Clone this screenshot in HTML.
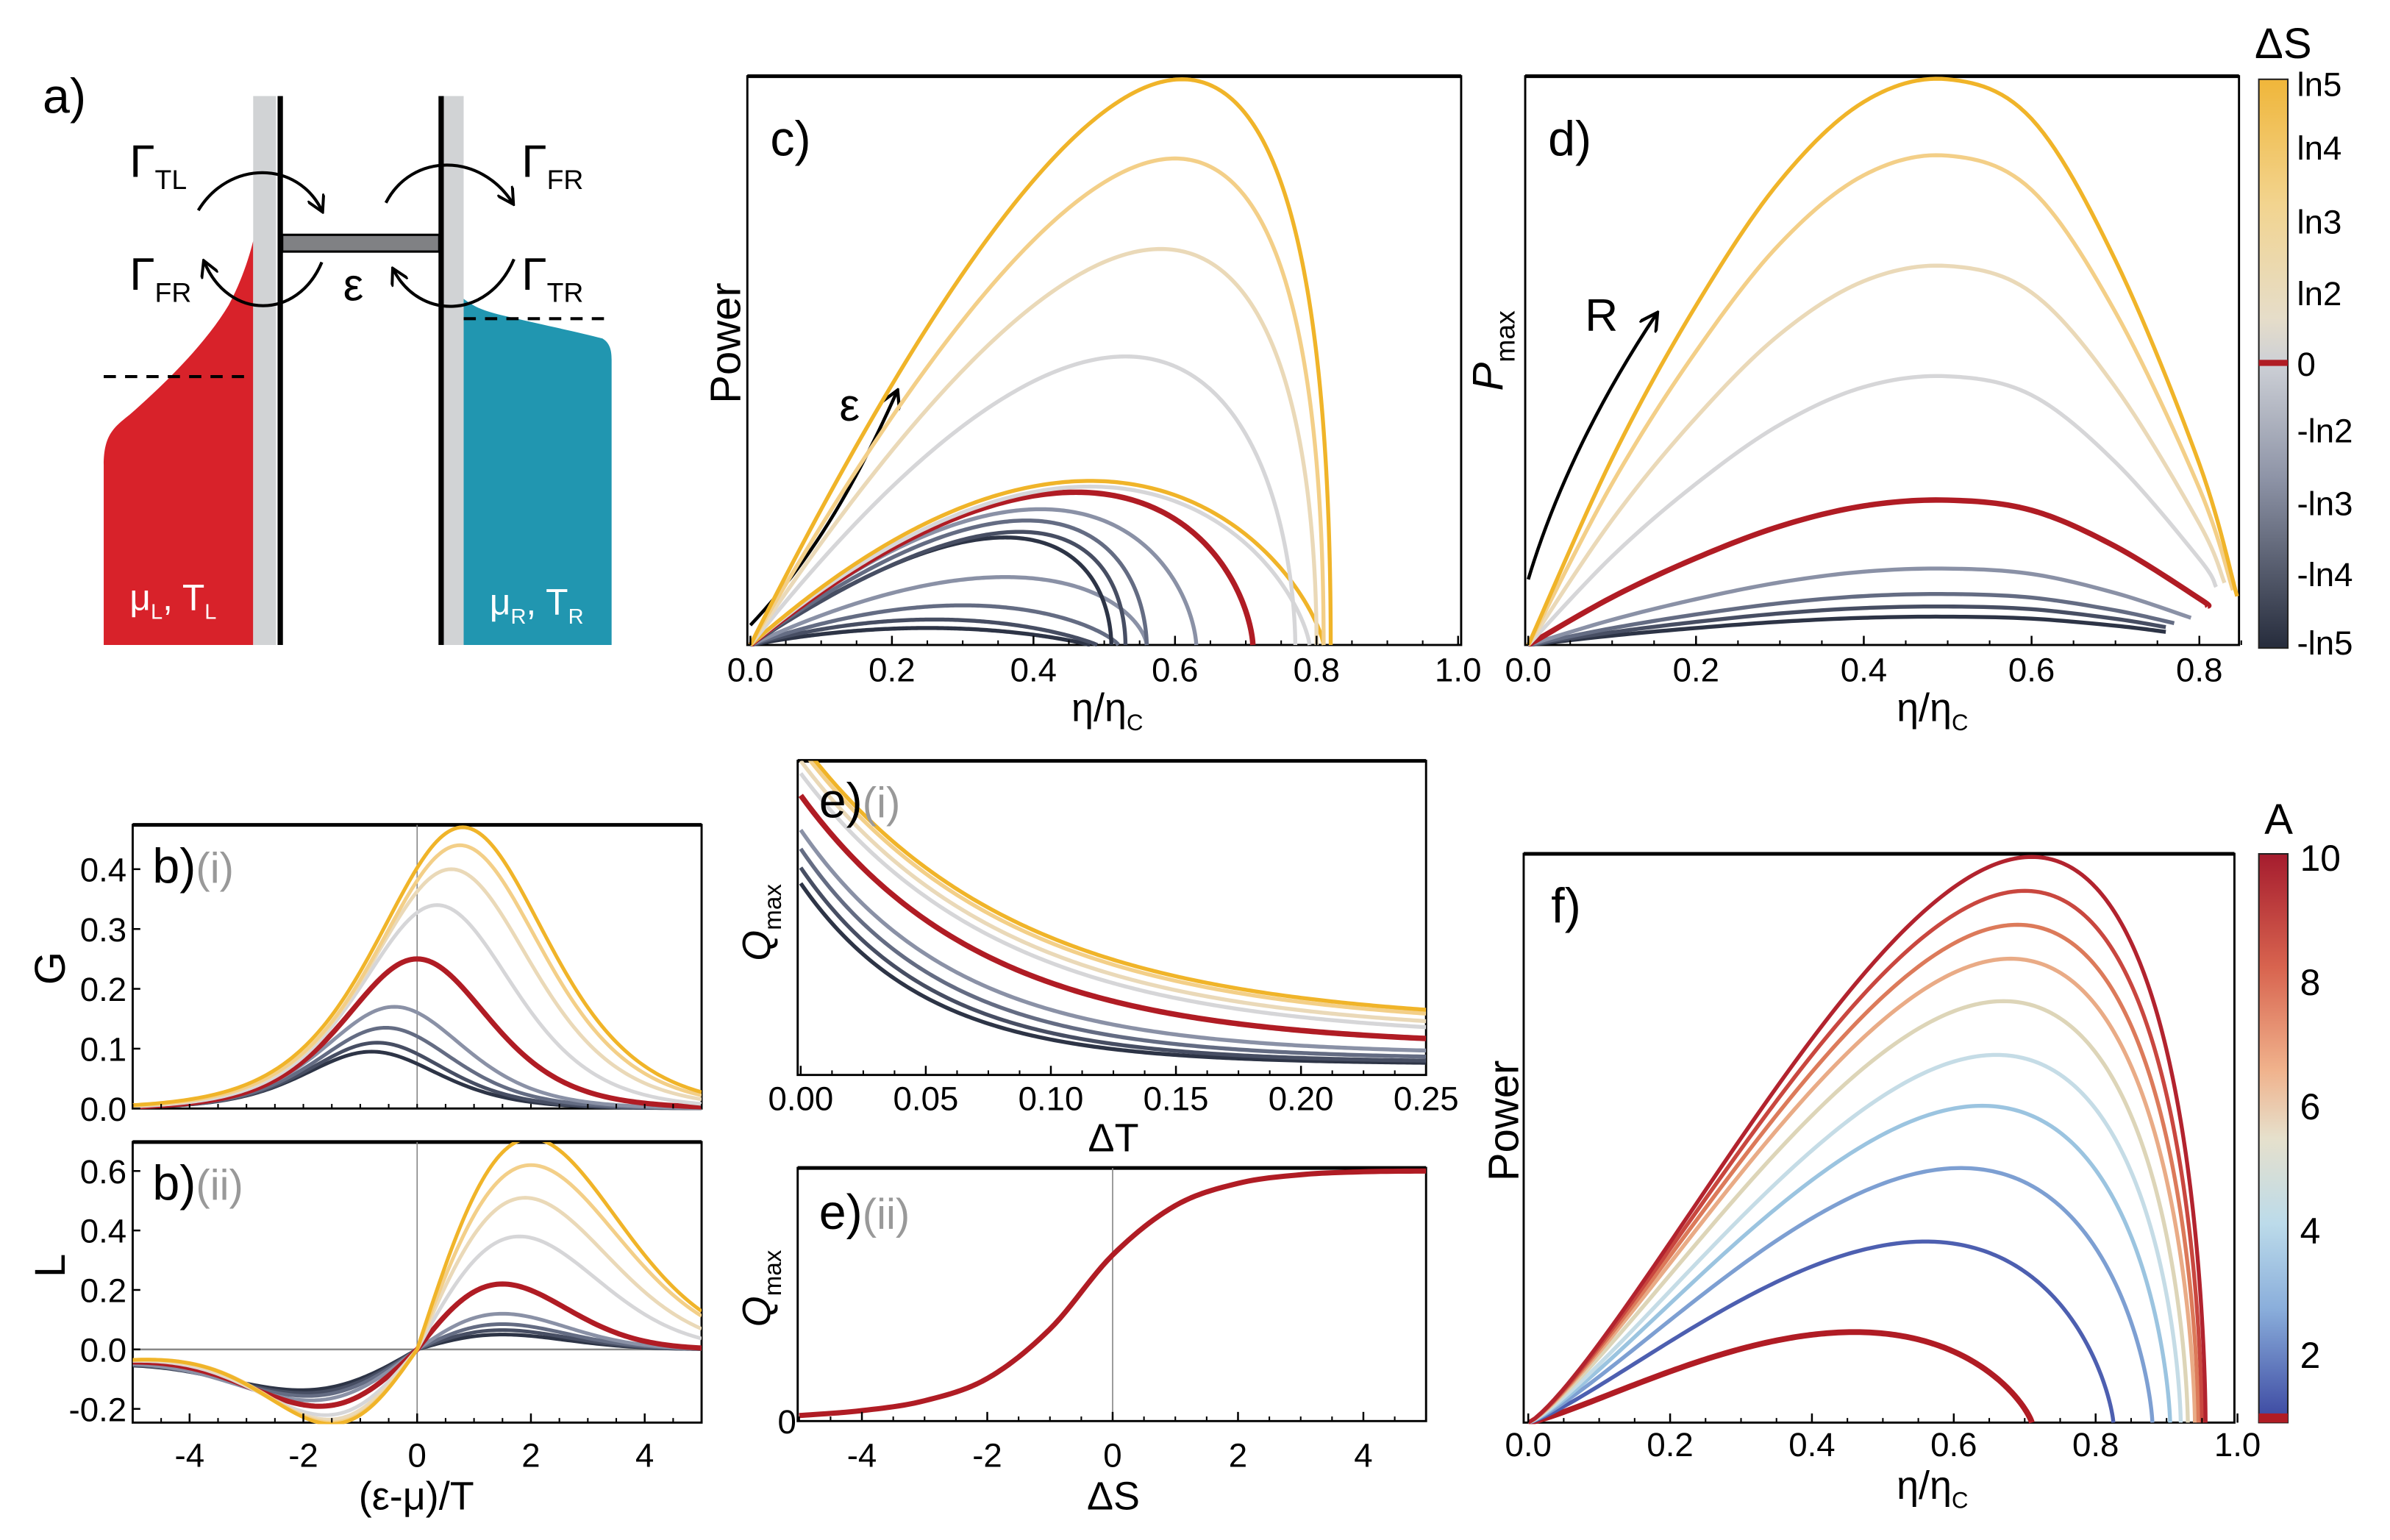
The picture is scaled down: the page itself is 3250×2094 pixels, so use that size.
<!DOCTYPE html>
<html><head><meta charset="utf-8">
<style>
html,body{margin:0;padding:0;background:#fff;}
svg{display:block;}
text{font-family:"Liberation Sans","DejaVu Sans",sans-serif;}
</style></head>
<body>
<svg id="fig" width="3250" height="2094" viewBox="0 0 1567 1010" preserveAspectRatio="none" xmlns="http://www.w3.org/2000/svg">
<defs>
<linearGradient id="gS" x1="0" y1="0" x2="0" y2="1">
<stop offset="0" stop-color="#f0b63a"/><stop offset="0.22" stop-color="#f2d48f"/><stop offset="0.42" stop-color="#e6ddc9"/><stop offset="0.5" stop-color="#cdd0d6"/><stop offset="0.7" stop-color="#8e94a7"/><stop offset="1" stop-color="#262c3c"/>
</linearGradient>
<linearGradient id="gA" x1="0" y1="0" x2="0" y2="1">
<stop offset="0" stop-color="#a51c2e"/><stop offset="0.2" stop-color="#d8644f"/><stop offset="0.38" stop-color="#f0b28c"/><stop offset="0.5" stop-color="#e6e0cc"/><stop offset="0.65" stop-color="#bcdbea"/><stop offset="0.8" stop-color="#8aaedb"/><stop offset="1" stop-color="#3a46a0"/>
</linearGradient>
<marker id="ah" viewBox="0 0 10 10" refX="8" refY="5" markerWidth="6" markerHeight="6" orient="auto"><path d="M0,0 L9,5 L0,10" fill="none" stroke="#000" stroke-width="1.6"/></marker>
<clipPath id="clipC"><rect x="490" y="50" width="468" height="374"/></clipPath>
<clipPath id="clipD"><rect x="1000" y="50" width="468" height="374"/></clipPath>
<clipPath id="clipB1"><rect x="87" y="541" width="373" height="187"/></clipPath>
<clipPath id="clipB2"><rect x="87" y="749" width="373" height="185"/></clipPath>
<clipPath id="clipE1"><rect x="523" y="499" width="412" height="207"/></clipPath>
<clipPath id="clipE2"><rect x="523" y="766" width="412" height="167"/></clipPath>
<clipPath id="clipF"><rect x="999" y="560" width="466" height="374"/></clipPath>
</defs>

<!-- Panel a -->
<g>
<text x="28" y="74" font-size="32">a)</text>
<path d="M68,423 L68,305 C68,285 75,280 85,272 C110,250 135,225 150,200 C158,185 163,170 166,158 L166,423 Z" fill="#d8222a"/>
<path d="M304,196 C312,202 318,204 330,207 C360,214 380,218 395,222 C400,225 401,230 401,236 L401,423 L304,423 Z" fill="#2196b0"/>
<rect x="166" y="63" width="15" height="360" fill="#d1d3d5"/>
<rect x="182" y="63" width="3.5" height="360" fill="#000"/>
<rect x="287.5" y="63" width="3.5" height="360" fill="#000"/>
<rect x="291" y="63" width="13" height="360" fill="#d1d3d5"/>
<rect x="185" y="154" width="103" height="11" fill="#808184" stroke="#000" stroke-width="1.5"/>
<line x1="68" y1="247" x2="165" y2="247" stroke="#000" stroke-width="2" stroke-dasharray="8,6"/>
<line x1="304" y1="209" x2="401" y2="209" stroke="#000" stroke-width="2" stroke-dasharray="8,6"/>
<path d="M130,138 C150,105 195,105 211,138" fill="none" stroke="#000" stroke-width="2" marker-end="url(#ah)"/>
<path d="M253,133 C270,100 315,100 336,133" fill="none" stroke="#000" stroke-width="2" marker-end="url(#ah)"/>
<path d="M211,172 C195,210 150,210 134,172" fill="none" stroke="#000" stroke-width="2" marker-end="url(#ah)"/>
<path d="M337,170 C320,210 275,210 258,177" fill="none" stroke="#000" stroke-width="2" marker-end="url(#ah)"/>
<text x="85" y="116" font-size="30">Γ<tspan font-size="18" dy="8">TL</tspan></text>
<text x="342" y="116" font-size="30">Γ<tspan font-size="18" dy="8">FR</tspan></text>
<text x="85" y="190" font-size="30">Γ<tspan font-size="18" dy="8">FR</tspan></text>
<text x="342" y="190" font-size="30">Γ<tspan font-size="18" dy="8">TR</tspan></text>
<text x="225" y="197" font-size="30">ε</text>
<text x="85" y="400" font-size="24" fill="#fff">μ<tspan font-size="14" dy="6">L</tspan><tspan dy="-6">, T</tspan><tspan font-size="14" dy="6">L</tspan></text>
<text x="321" y="403" font-size="24" fill="#fff">μ<tspan font-size="14" dy="6">R</tspan><tspan dy="-6">, T</tspan><tspan font-size="14" dy="6">R</tspan></text>
</g>

<g id="plots"></g>
</svg>
<script>
// ---------- DATA ----------
const sColors = ['#f0b429','#f3cf88','#ead9b8','#d6d6d8','#b01c24','#8a91a6','#646c83','#474e63','#2d3446'];
// panel c
const cPeakEta = [0.61,0.60,0.58,0.53,0.48,0.48,0.46,0.41,0.39,0.38,0.36,0.36,0.30,0.26,0.25];
const cPeakP   = [1.00,0.86,0.70,0.51,0.29,0.28,0.27,0.24,0.22,0.20,0.19,0.12,0.07,0.045,0.03];
const cEndEta  = [0.82,0.81,0.80,0.77,0.81,0.79,0.71,0.63,0.56,0.53,0.51,0.56,0.52,0.49,0.48];
const cColor   = ['#f0b429','#f3cf88','#ead9b8','#d6d6d8','#f0b429','#d6d6d8','#b01c24','#8a91a6','#646c83','#474e63','#2d3446','#8a91a6','#646c83','#474e63','#2d3446'];
const cTicks = [0,0.2,0.4,0.6,0.8,1.0];
// panel d
const dPeak = [1.00,0.865,0.67,0.475,0.256,0.135,0.09,0.068,0.05];
const dEnd  = [0.845,0.84,0.83,0.82,0.81,0.79,0.77,0.76,0.76];
const dShapeEta = [0,0.1,0.2,0.3,0.4,0.5,0.6,0.7,0.8,0.85];
const dShape    = [0,0.33,0.6,0.82,0.96,1,0.93,0.68,0.32,0.06];
const dTicks = [0,0.2,0.4,0.6,0.8];
const sCbLabels = ['ln5','ln4','ln3','ln2','0','-ln2','-ln3','-ln4','-ln5'];
const sCbPos = [0.008,0.12,0.25,0.376,0.5,0.617,0.745,0.87,0.99];
// panel b(i)
const gPeakX = [0.8,0.75,0.6,0.35,0.0,-0.4,-0.55,-0.7,-0.8];
const gPeakH = [0.47,0.44,0.40,0.34,0.25,0.17,0.135,0.11,0.095];
const gWidth = [2.0,1.95,1.9,1.8,1.7,1.65,1.62,1.6,1.6];
const bXTicks = [-4,-2,0,2,4];
const gYTicks = [0,0.1,0.2,0.3,0.4];
// panel b(ii)
const lPosH = [0.71,0.62,0.51,0.38,0.22,0.12,0.085,0.065,0.05];
const lPosX = [2.0,2.0,1.9,1.8,1.5,1.5,1.5,1.5,1.5];
const lNegH = [0.25,0.245,0.235,0.22,0.19,0.17,0.155,0.145,0.135];
const lNegX = [1.5,1.5,1.55,1.6,1.7,1.85,1.9,1.95,2.0];
const lYTicks = [-0.2,0,0.2,0.4,0.6];
// panel e(i)
const eQ0   = [1.06,1.04,1.0,0.96,0.89,0.78,0.72,0.66,0.61];
const eQinf = [0.16,0.15,0.13,0.115,0.09,0.065,0.05,0.04,0.035];
const eTau  = [0.085,0.084,0.082,0.08,0.073,0.062,0.057,0.053,0.05];
const e1Ticks = [0,0.05,0.10,0.15,0.20,0.25];
const e1TickLabels = ['0.00','0.05','0.10','0.15','0.20','0.25'];
// panel e(ii)
const e2S = [-5,-4,-3,-2,-1,0,1,2,3,4,5];
const e2Q = [0.01,0.03,0.07,0.16,0.36,0.66,0.86,0.95,0.985,0.997,1.0];
// panel f
const fPeakEta = [0.71,0.70,0.69,0.68,0.67,0.66,0.64,0.61,0.56,0.46];
const fPeakP   = [1.0,0.94,0.88,0.82,0.745,0.65,0.56,0.45,0.32,0.16];
const fEndEta  = [0.955,0.95,0.945,0.94,0.93,0.92,0.905,0.88,0.825,0.71];
const fColor   = ['#b2232e','#c9473f','#dc7a5a','#e9ab86','#ddd5b8','#c5dce6','#9bc4e0','#7d9fd2','#4d5fb0','#b01c24'];
const fTicks = [0,0.2,0.4,0.6,0.8,1.0];
const aCbLabels = ['10','8','6','4','2'];
const aCbVals = [10,8,6,4,2];

// ---------- HELPERS ----------
const NS='http://www.w3.org/2000/svg';
const root=document.getElementById('plots');
function el(tag,attrs,parent){const e=document.createElementNS(NS,tag);for(const k in attrs)e.setAttribute(k,attrs[k]);(parent||root).appendChild(e);return e;}
function lin(d0,d1,r0,r1){return v=>r0+(v-d0)*(r1-r0)/(d1-d0);}
function pathD(pts){return pts.map((p,i)=>(i?'L':'M')+p[0].toFixed(2)+','+p[1].toFixed(2)).join('');}
function catmull(xs,ys,n){const out=[];for(let i=0;i<xs.length-1;i++){const i0=Math.max(0,i-1),i3=Math.min(xs.length-1,i+2);for(let k=0;k<n;k++){const t=k/n,t2=t*t,t3=t2*t;const f=(a,b,c,d)=>0.5*((2*b)+(-a+c)*t+(2*a-5*b+4*c-d)*t2+(-a+3*b-3*c+d)*t3);out.push([f(xs[i0],xs[i],xs[i+1],xs[i3]),f(ys[i0],ys[i],ys[i+1],ys[i3])]);}}out.push([xs[xs.length-1],ys[ys.length-1]]);return out;}
function box(x,y,w,h,name){const r=el('rect',{x:x,y:y,width:w,height:h,fill:'none',stroke:'#000','stroke-width':1.4});const t=el('line',{x1:x,y1:y,x2:x+w,y2:y,stroke:'#000','stroke-width':2.4});}
function txt(x,y,s,size,anchor,name,extra){const t=el('text',Object.assign({x:x,y:y,'font-size':size,'text-anchor':anchor||'middle'},extra||{}));t.textContent=s;return t;}
function xticks(sx,vals,labels,y0,name,minorStep,lo,hi,ly,size){
  for(let v=lo;v<=hi+1e-9;v+=minorStep){const X=sx(v);const l=el('line',{x1:X,y1:y0,x2:X,y2:y0-3,stroke:'#000','stroke-width':1});}
  vals.forEach((v,i)=>{const X=sx(v);const l=el('line',{x1:X,y1:y0,x2:X,y2:y0-6,stroke:'#000','stroke-width':1.2});txt(X,ly,labels[i],size||22,'middle',name+'-tick-label');});
}
function yticks(sy,vals,labels,x0,name,lx){vals.forEach((v,i)=>{const Y=sy(v);const l=el('line',{x1:x0,y1:Y,x2:x0+5,y2:Y,stroke:'#000','stroke-width':1.2});txt(lx,Y+8,labels[i],22,'end',name+'-tick-label');});}
function curve(pts,color,w,clip,name){const p=el('path',{d:pathD(pts),fill:'none',stroke:color,'stroke-width':w,'stroke-linejoin':'round','clip-path':'url(#'+clip+')'});return p;}
function loopPts(ep,em,pm,sx,sy,pw){const n=Math.max(1.02,Math.log(1-ep/em)/Math.log(0.5));const pts=[];for(let i=0;i<=200;i++){const x=i/200;const eta=em*(1-Math.pow(1-x,n));const P=pm*Math.pow(4*x*(1-x),pw);pts.push([sx(eta),sy(P)]);}return pts;}
const fmt1=v=>v.toFixed(1);

// ---------- PANEL C ----------
{const sx=lin(0,1,492,956),sy=lin(0,1,423,52);
box(490,50,468,373,'panel-c-frame');
const ar=el('path',{d:'M492,410 C530,370 560,320 588,257',fill:'none',stroke:'#000','stroke-width':2.2,'marker-end':'url(#ah)'});

txt(557,276,'ε',30,'middle','epsilon-arrow-label');
for(let i=cPeakEta.length-1;i>=0;i--){curve(loopPts(cPeakEta[i],cEndEta[i],cPeakP[i],sx,sy,1),cColor[i],cColor[i]==='#b01c24'?3.6:2.6,'clipC','power-curve-c-'+i);}
xticks(sx,cTicks,cTicks.map(fmt1),423,'c-x-axis',0.05,0,1,447);
txt(726,473,'η/η',26,'middle','c-x-axis-title').innerHTML='η/η<tspan font-size="15" dy="6">C</tspan>';
txt(478,225,'Power',28,'middle','c-y-axis-title',{transform:'rotate(-90 478 225)'}).setAttribute('dominant-baseline','middle');
txt(505,102,'c)',32,'start','panel-c-label');}

// ---------- PANEL D ----------
{const sx=lin(0,0.8,1002,1442),sy=lin(0,1,423,52);
box(1000,50,468,373,'panel-d-frame');
const ar=el('path',{d:'M1002,380 C1020,320 1050,260 1086,206',fill:'none',stroke:'#000','stroke-width':2.2,'marker-end':'url(#ah)'});

txt(1050,217,'R',30,'middle','r-arrow-label');
for(let i=dPeak.length-1;i>=0;i--){const xs=[],ys=[];for(let k=0;k<dShapeEta.length;k++){if(dShapeEta[k]<dEnd[i]){xs.push(dShapeEta[k]);ys.push(dShape[k]);}else{const a=dShapeEta[k-1],b=dShapeEta[k];const t=(dEnd[i]-a)/(b-a);xs.push(dEnd[i]);ys.push(dShape[k-1]+t*(dShape[k]-dShape[k-1]));break;}}
 const pts=catmull(xs.map(sx),ys.map(v=>sy(v*dPeak[i])),14);curve(pts,sColors[i],i===4?3.6:2.6,'clipD','pmax-curve-d-'+i);}
xticks(sx,dTicks,dTicks.map(fmt1),423,'d-x-axis',0.05,0,0.85,447);
txt(1267,473,'',26,'middle','d-x-axis-title').innerHTML='η/η<tspan font-size="15" dy="6">C</tspan>';
txt(985,230,'',28,'middle','d-y-axis-title',{transform:'rotate(-90 985 230)'}).innerHTML='<tspan font-style="italic">P</tspan><tspan font-size="18" dy="8">max</tspan>';
txt(1015,102,'d)',32,'start','panel-d-label');
const cb=el('rect',{x:1481,y:52,width:19,height:373,fill:'url(#gS)',stroke:'#222','stroke-width':1});
const cbz=el('rect',{x:1481,y:236,width:19,height:4,fill:'#b01c24'});
sCbLabels.forEach((s,i)=>{const Y=52+373*sCbPos[i];txt(1506,Y+8,s,22,'start','delta-s-colorbar-label');});
txt(1497,38,'ΔS',28,'middle','delta-s-colorbar-title');}

// ---------- PANEL B(i) ----------
{const sx=lin(-5,5,87,460),sy=lin(0,0.474,727,541);
box(87,541,373,186,'panel-bi-frame');
const v=el('line',{x1:sx(0),y1:541,x2:sx(0),y2:727,stroke:'#888','stroke-width':0.8});
for(let i=gPeakX.length-1;i>=0;i--){const pts=[];for(let k=0;k<=200;k++){const x=-5+k*0.05;const c=Math.cosh((x-gPeakX[i])/gWidth[i]);pts.push([sx(x),sy(gPeakH[i]/(c*c))]);}curve(pts,sColors[i],i===4?3.4:2.4,'clipB1','g-curve-'+i);}
yticks(sy,gYTicks,gYTicks.map(fmt1),87,'bi-y-axis',83);
for(let v2=-5;v2<=5;v2+=0.5){const X=sx(v2);const l=el('line',{x1:X,y1:727,x2:X,y2:724,stroke:'#000','stroke-width':1});}
txt(35,635,'G',28,'middle','bi-y-axis-title',{transform:'rotate(-90 35 635)'}).setAttribute('dominant-baseline','middle');
txt(100,579,'b)',32,'start','panel-bi-label').innerHTML='b)<tspan fill="#999" font-size="28">(i)</tspan>';}

// ---------- PANEL B(ii) ----------
{const sx=lin(-5,5,87,460),sy=lin(0,0.6,885,768);
box(87,749,373,184,'panel-bii-frame');
const v=el('line',{x1:sx(0),y1:749,x2:sx(0),y2:933,stroke:'#888','stroke-width':0.8});
const h=el('line',{x1:87,y1:sy(0),x2:460,y2:sy(0),stroke:'#888','stroke-width':1.2});
for(let i=lPosH.length-1;i>=0;i--){const pts=[];for(let k=0;k<=200;k++){const x=-5+k*0.05;let L;if(x>=0){const u=x/lPosX[i];L=lPosH[i]*u*Math.exp((1-u*u)/2);}else{const u=-x/lNegX[i];L=-lNegH[i]*u*Math.exp((1-u*u)/2)-0.03*Math.min(1,Math.pow(-x/5,3));}pts.push([sx(x),sy(L)]);}curve(pts,sColors[i],i===4?3.4:2.4,'clipB2','l-curve-'+i);}
yticks(sy,lYTicks,lYTicks.map(fmt1),87,'bii-y-axis',83);
xticks(sx,bXTicks,bXTicks.map(String),933,'bii-x-axis',0.5,-5,5,962);
txt(273,990,'(ε-μ)/T',26,'middle','bii-x-axis-title');
txt(35,830,'L',28,'middle','bii-y-axis-title',{transform:'rotate(-90 35 830)'}).setAttribute('dominant-baseline','middle');
txt(100,787,'b)',32,'start','panel-bii-label').innerHTML='b)<tspan fill="#999" font-size="28">(ii)</tspan>';}

// ---------- PANEL E(i) ----------
{const sx=lin(0,0.25,525,935),sy=lin(0,1,705,499);
box(523,499,412,206,'panel-ei-frame');
for(let i=eQ0.length-1;i>=0;i--){const pts=[];for(let k=0;k<=200;k++){const x=k*0.25/200;pts.push([sx(x),sy(eQinf[i]+(eQ0[i]-eQinf[i])*Math.exp(-x/eTau[i]))]);}curve(pts,sColors[i],i===4?3.6:2.6,'clipE1','qmax-dt-curve-'+i);}
xticks(sx,e1Ticks,e1TickLabels,705,'ei-x-axis',0.0125,0,0.25,728);
txt(730,755,'ΔT',26,'middle','ei-x-axis-title');
txt(505,605,'',26,'middle','ei-y-axis-title',{transform:'rotate(-90 505 605)'}).innerHTML='<tspan font-style="italic">Q</tspan><tspan font-size="16" dy="7">max</tspan>';
txt(537,536,'e)',32,'start','panel-ei-label').innerHTML='e)<tspan fill="#999" font-size="28">(i)</tspan>';}

// ---------- PANEL E(ii) ----------
{const sx=lin(-5,5,524,935),sy=lin(0,1,930,768);
box(523,766,412,166,'panel-eii-frame');
const v=el('line',{x1:sx(0),y1:766,x2:sx(0),y2:932,stroke:'#888','stroke-width':0.8});
const pts=catmull(e2S.map(sx),e2Q.map(sy),12);curve(pts,'#b01c24',3.4,'clipE2','qmax-ds-curve');
xticks(sx,bXTicks,bXTicks.map(String),932,'eii-x-axis',0.5,-5,5,962);
txt(516,940,'0',22,'middle','eii-y-zero-label');
txt(730,990,'ΔS',26,'middle','eii-x-axis-title');
txt(505,845,'',26,'middle','eii-y-axis-title',{transform:'rotate(-90 505 845)'}).innerHTML='<tspan font-style="italic">Q</tspan><tspan font-size="16" dy="7">max</tspan>';
txt(537,806,'e)',32,'start','panel-eii-label').innerHTML='e)<tspan fill="#999" font-size="28">(ii)</tspan>';}

// ---------- PANEL F ----------
{const sx=lin(0,1,1002,1467),sy=lin(0,1,933,562);
box(999,560,466,373,'panel-f-frame');
for(let i=fPeakEta.length-1;i>=0;i--){curve(loopPts(fPeakEta[i],fEndEta[i],fPeakP[i],sx,sy,1.25),fColor[i],i===9?3.8:2.6,'clipF','power-curve-f-'+i);}
xticks(sx,fTicks,fTicks.map(fmt1),933,'f-x-axis',0.05,0,1,955);
txt(1267,983,'',26,'middle','f-x-axis-title').innerHTML='η/η<tspan font-size="15" dy="6">C</tspan>';
txt(988,735,'Power',28,'middle','f-y-axis-title',{transform:'rotate(-90 988 735)'}).setAttribute('dominant-baseline','middle');
txt(1017,605,'f)',32,'start','panel-f-label');
const cb=el('rect',{x:1481,y:560,width:19,height:373,fill:'url(#gA)',stroke:'#222','stroke-width':1});
const cbr=el('rect',{x:1481,y:927,width:19,height:6,fill:'#b01c24'});
const sa=lin(1,10,929,562);
aCbVals.forEach((a,i)=>{txt(1508,sa(a)+9,aCbLabels[i],24,'start','a-colorbar-label');});
txt(1494,547,'A',28,'middle','a-colorbar-title');}
</script>
</body></html>
